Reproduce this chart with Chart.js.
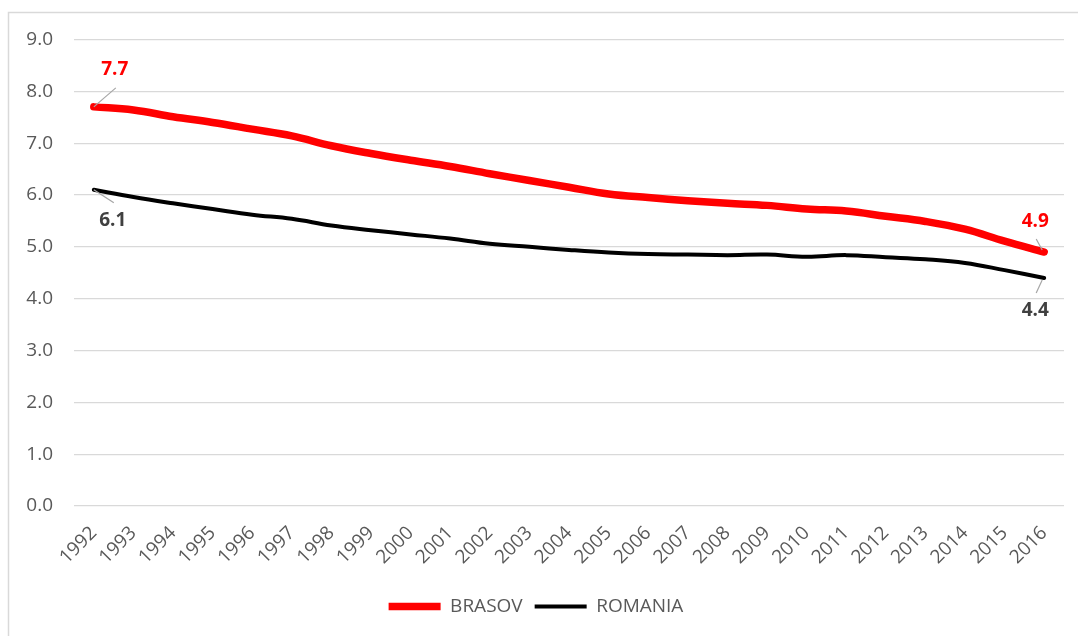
<!DOCTYPE html>
<html>
<head>
<meta charset="utf-8">
<script src="https://cdn.jsdelivr.net/npm/chart.js@4"></script>
<style>
  html, body { margin: 0; padding: 0; background: #ffffff; }
  #wrap { width: 1078px; height: 636px; position: relative; }
</style>
</head>
<body>
<div id="wrap"><canvas id="c" width="1078" height="636"></canvas></div>
<script>
// Years on the category axis
const years = ['1992','1993','1994','1995','1996','1997','1998','1999','2000','2001','2002','2003',
               '2004','2005','2006','2007','2008','2009','2010','2011','2012','2013','2014','2015','2016'];

// Series values
const brasov = [7.7, 7.64, 7.51, 7.40, 7.27, 7.14, 6.95, 6.80, 6.67, 6.55, 6.41, 6.28,
                6.15, 6.02, 5.95, 5.89, 5.84, 5.80, 5.73, 5.69, 5.59, 5.49, 5.34, 5.11, 4.9];
const romania = [6.1, 5.96, 5.84, 5.73, 5.62, 5.54, 5.41, 5.32, 5.24, 5.16, 5.06, 5.00,
                 4.94, 4.89, 4.86, 4.85, 4.84, 4.85, 4.81, 4.84, 4.80, 4.76, 4.69, 4.55, 4.4];

// Value axis ticks
const yTicks = [0, 1, 2, 3, 4, 5, 6, 7, 8, 9];

const FONT = '"Open Sans", "DejaVu Sans", sans-serif';
const GRAY_TEXT = '#595959';

// White page with a thin frame round the chart
const framePlugin = {
  id: 'frame',
  beforeDraw(chart) {
    const ctx = chart.ctx;
    ctx.save();
    ctx.fillStyle = '#ffffff';
    ctx.fillRect(0, 0, chart.width, chart.height);
    ctx.strokeStyle = '#d9d9d9';
    ctx.lineWidth = 1.5;
    ctx.strokeRect(8.5, 12.5, chart.width + 20, chart.height + 20);
    ctx.restore();
  }
};

// Labels for the first and last point of each line, with short leader lines
const endLabelPlugin = {
  id: 'endLabels',
  afterDatasetsDraw(chart, args, opts) {
    const ctx = chart.ctx;
    ctx.save();
    (opts.items || []).forEach(it => {
      const meta = chart.getDatasetMeta(it.dataset);
      const el = meta.data[it.index];
      const val = chart.data.datasets[it.dataset].data[it.index];
      const px = el.x, py = el.y;
      // leader line
      ctx.strokeStyle = '#a6a6a6';
      ctx.lineWidth = 1.2;
      ctx.beginPath();
      ctx.moveTo(px + it.lead[0], py + it.lead[1]);
      ctx.lineTo(px + it.lead[2], py + it.lead[3]);
      ctx.stroke();
      // text
      ctx.fillStyle = it.color;
      ctx.font = 'bold 19px ' + FONT;
      ctx.textAlign = 'center';
      ctx.textBaseline = 'middle';
      ctx.fillText(val.toFixed(1), px + it.dx, py + it.dy);
    });
    ctx.restore();
  }
};

new Chart(document.getElementById('c'), {
  type: 'line',
  data: {
    labels: years,
    datasets: [
      {
        label: 'BRASOV',
        data: brasov,
        borderColor: '#ff0000',
        backgroundColor: '#ff0000',
        borderWidth: 7.5,
        borderCapStyle: 'round',
        borderJoinStyle: 'round',
        pointRadius: 0,
        tension: 0.4,
        fill: false
      },
      {
        label: 'ROMANIA',
        data: romania,
        borderColor: '#000000',
        backgroundColor: '#000000',
        borderWidth: 4,
        borderCapStyle: 'round',
        borderJoinStyle: 'round',
        pointRadius: 0,
        tension: 0.4,
        fill: false
      }
    ]
  },
  options: {
    responsive: false,
    animation: false,
    devicePixelRatio: 1,
    layout: { padding: { left: 8, right: 14, top: 39.5, bottom: 10 } },
    scales: {
      x: {
        offset: true,
        grid: { display: false, drawTicks: false },
        border: { display: false },
        ticks: {
          autoSkip: false,
          maxRotation: 45,
          minRotation: 45,
          padding: 16,
          color: GRAY_TEXT,
          font: { family: FONT, size: 19 }
        },
        afterFit(scale) { scale.height = 79; }
      },
      y: {
        min: 0,
        max: 9,
        afterBuildTicks(scale) { scale.ticks = yTicks.map(v => ({ value: v })); },
        grid: { color: '#d9d9d9', lineWidth: 1.3, drawTicks: false },
        border: { display: false },
        ticks: {
          padding: 21,
          color: GRAY_TEXT,
          font: { family: FONT, size: 19 },
          callback: v => Number(v).toFixed(1)
        },
        afterFit(scale) { scale.width = 66; }
      }
    },
    plugins: {
      legend: {
        position: 'bottom',
        labels: {
          usePointStyle: true,
          pointStyle: 'line',
          pointStyleWidth: 52,
          padding: 12,
          color: GRAY_TEXT,
          font: { family: FONT, size: 19 }
        }
      },
      tooltip: { enabled: false },
      endLabels: {
        items: [
          { dataset: 0, index: 0, dx: 21, dy: -37, color: '#ff0000', lead: [0, 0, 22, -19] },
          { dataset: 1, index: 0, dx: 19, dy: 31, color: '#404040', lead: [0, 0, 20, 13] },
          { dataset: 0, index: 24, dx: -9, dy: -30, color: '#ff0000', lead: [-2, -2, -8, -13] },
          { dataset: 1, index: 24, dx: -9, dy: 33, color: '#404040', lead: [-2, 2, -8, 15] }
        ]
      }
    }
  },
  plugins: [framePlugin, endLabelPlugin]
});
</script>
</body>
</html>
